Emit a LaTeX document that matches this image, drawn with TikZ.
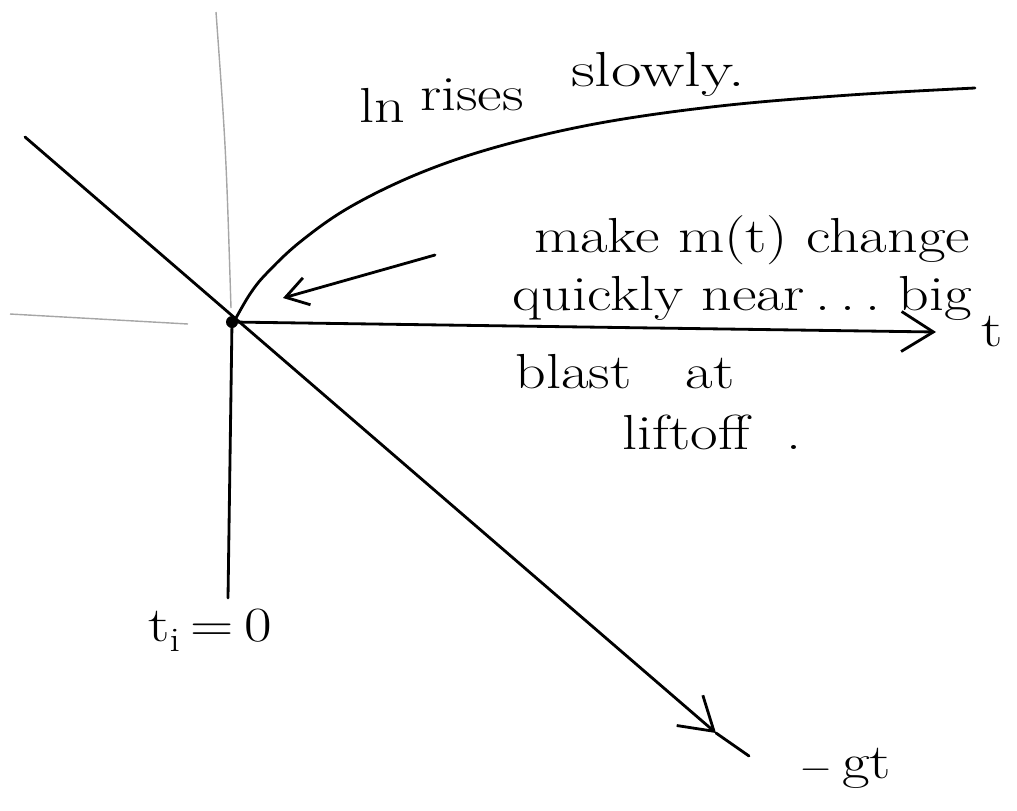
\documentclass[tikz,border=0pt]{standalone}
\usepackage{graphicx}
\usetikzlibrary{arrows.meta}
\newcommand{\wide}[1]{\scalebox{1.22}[1]{#1}}
\begin{document}
\begin{tikzpicture}[x=0.025cm,y=-0.025cm,
  ink/.style={line width=2pt,line cap=round,line join=round,black},
  faint/.style={line width=1pt,black!35},
  hand/.style={font=\fontsize{35}{38}\selectfont,inner sep=0pt},
  barb/.style={-{Straight Barb[length=0.8cm,width=1.0cm,line width=2pt]}},
  smallbarb/.style={-{Straight Barb[length=0.55cm,width=0.7cm,line width=2pt]}}]
\useasboundingbox (0,0) rectangle (1017,810);
% coordinates
\coordinate (O) at (232,322);
\coordinate (vtop) at (216,12);
\coordinate (vmid) at (231,308);
\coordinate (hl1) at (10,314);
\coordinate (hl2) at (188,324);
\coordinate (tend) at (936,332);
\coordinate (vbot) at (228,598);
\coordinate (dA) at (25,137);
\coordinate (dH) at (716,733);
\coordinate (dB) at (749,756);
\coordinate (aS) at (435,255);
\coordinate (aE) at (283,298);
% faint guide lines
\draw[faint] (vtop) .. controls (226,150) .. (vmid);
\draw[faint] (hl1) -- (hl2);
% axes
\draw[ink,barb] (O) -- (tend);
\draw[ink] (O) -- (vbot);
\draw[ink,barb] (dA) -- (dH);
\draw[ink] (dH) -- (dB);
% curve
\draw[ink] plot[smooth,tension=0.6] coordinates {(236,318) (250,294) (266,274) (300,242) (350,207) (420,173) (500,146) (600,123) (720,106) (850,95) (975,88)};
% small arrow
\draw[ink,smallbarb] (aS) -- (aE);
% origin dot
\fill (O) circle (6);
% texts
\node[hand,anchor=base] (w1) at (382,122) {\wide{ln}};
\node[hand,anchor=base] (w2) at (472,110) {\wide{rises}};
\node[hand,anchor=base] (w3) at (658,86) {\scalebox{1.35}[1]{slowly.}};
\node[hand] (lab2) at (752,240) {\wide{make m(t) change}};
\node[hand] (lab3) at (742,298) {\wide{quickly near\,.\,.\,.\ big}};
\node[hand] (lab4) at (625,372) {\wide{blast\ \ \ at}};
\node[hand] (lab5) at (712,432) {\wide{liftoff\ \ .}};
\node[hand] (tl) at (992,332) {\wide{t}};
\node[hand] (ti) at (210,630) {\wide{t\textsubscript{i}\,=\,0}};
\node[hand] (gt) at (845,768) {\wide{$-$\,gt}};
\end{tikzpicture}
\end{document}
